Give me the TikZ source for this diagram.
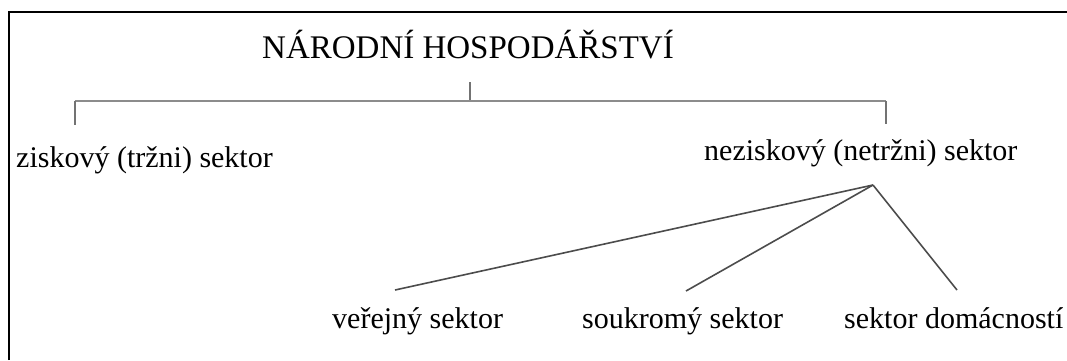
\documentclass[tikz,border=0pt]{standalone}
\usepackage{fontspec}
\setmainfont{Liberation Serif}
\begin{document}
\begin{tikzpicture}[x=1pt,y=-1pt,
  lbl/.style={inner sep=0pt,anchor=base west,font=\fontsize{30}{32}\selectfont},
  ttl/.style={inner sep=0pt,anchor=base west,font=\fontsize{33}{35}\selectfont},
  bracket/.style={draw=black!45,line width=2.6pt},
  stem/.style={draw=black!55,line width=1.8pt},
  fan/.style={draw=black!70,line width=1.6pt},
  frame/.style={draw=black,line width=2pt}]
\useasboundingbox (0,0) rectangle (1067,360);
% frame
\coordinate (fl) at (9,360);
\coordinate (fc) at (9,12);
\coordinate (fr) at (1067,12);
\draw[frame] (fl) -- (fc) -- (fr);
% texts
\node[ttl] (title) at (262,58) {NÁRODNÍ HOSPODÁŘSTVÍ};
\node[lbl] (zisk) at (16,167) {ziskový (tržni) sektor};
\node[lbl] (nezisk) at (704,160) {neziskový (netržni) sektor};
\node[lbl] (verej) at (332,328) {veřejný sektor};
\node[lbl] (soukr) at (582,328) {soukromý sektor};
\node[lbl] (domac) at (844,328) {sektor domácností};
% bracket
\coordinate (stemtop) at (470,82);
\coordinate (stembot) at (470,101);
\coordinate (barl) at (75,101);
\coordinate (barr) at (886,101);
\coordinate (dropl) at (75,125);
\coordinate (dropr) at (886,124);
\draw[stem] (stemtop) -- (stembot);
\draw[bracket] (barl) -- (barr);
\draw[stem] (barl) -- (dropl);
\draw[stem] (barr) -- (dropr);
% fan
\coordinate (apex) at (873,185);
\coordinate (ev) at (395,290);
\coordinate (es) at (686,291);
\coordinate (ed) at (957,290);
\draw[fan] (apex) -- (ev);
\draw[fan] (apex) -- (es);
\draw[fan] (apex) -- (ed);
\end{tikzpicture}
\end{document}
